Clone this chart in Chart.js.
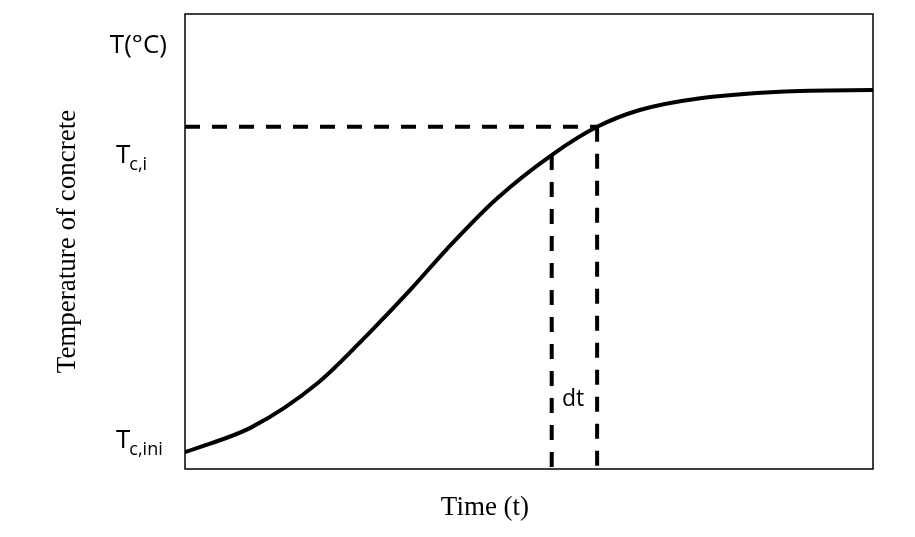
<!DOCTYPE html>
<html>
<head>
<meta charset="utf-8">
<script src="https://cdn.jsdelivr.net/npm/chart.js@4.4.0/dist/chart.umd.min.js"></script>
<style>
  html, body { margin: 0; padding: 0; background: #fff; }
  #wrap { width: 915px; height: 537px; }
</style>
</head>
<body>
<div id="wrap"><canvas id="myChart"></canvas></div>
<script>
// curve (time 0..100, temperature 0..100)
const timeVals = [0, 9.7, 19.3, 26.9, 32.7, 38.1, 45.3, 53.3, 59.9, 66.1, 74.9, 89.4, 100];
const tempVals = [3.7, 9.2, 18.9, 30.1, 39.3, 48.4, 59.4, 69.0, 75.2, 78.9, 81.5, 83.1, 83.3];

// guide lines
const tI = 59.9;       // time at Tc,i
const tPrev = 53.3;    // start of dt
const tempI = 75.2;    // Tc,i
const tempPrev = 69.0;

// y axis labels: [text, subscript, value at baseline]
const yLabels = [
  ["T(°C)", "", 91.4],
  ["T", "c,i", 67.3],
  ["T", "c,ini", 4.6],
];
const dtLabel = ["dt", 56.4, 15.2];
const xTitle = "Time (t)";
const yTitle = "Temperature of concrete";

const curve = timeVals.map((t, i) => ({ x: t, y: tempVals[i] }));

const dashed = {
  borderColor: "#000",
  borderWidth: 4,
  borderDash: [15, 12],
  pointRadius: 0,
  fill: false,
  tension: 0,
};

const decorPlugin = {
  id: "decor",
  afterDraw(chart) {
    const ctx = chart.ctx;
    const a = chart.chartArea;
    const xs = chart.scales.x, ys = chart.scales.y;
    ctx.save();
    // frame
    ctx.strokeStyle = "#000";
    ctx.lineWidth = 1.5;
    ctx.strokeRect(a.left, a.top, a.right - a.left, a.bottom - a.top);

    // y labels
    ctx.fillStyle = "#000";
    ctx.textBaseline = "alphabetic";
    yLabels.forEach(([txt, sub, v]) => {
      const py = ys.getPixelForValue(v);
      ctx.font = "26px 'Open Sans'";
      if (!sub) {
        ctx.textAlign = "right";
        ctx.fillText(txt, a.left - 18, py);
      } else {
        ctx.textAlign = "left";
        const x0 = a.left - 69;
        ctx.fillText(txt, x0, py);
        const w = ctx.measureText(txt).width;
        ctx.font = "18px 'Open Sans'";
        ctx.fillText(sub, x0 + w - 1, py + 7);
      }
    });

    // dt
    ctx.textBaseline = "middle";
    ctx.font = "23px 'Open Sans'";
    ctx.textAlign = "center";
    ctx.fillText(dtLabel[0], xs.getPixelForValue(dtLabel[1]), ys.getPixelForValue(dtLabel[2]));

    // axis titles
    ctx.font = "27px 'Liberation Serif'";
    ctx.fillText(xTitle, a.left + (a.right - a.left) * 0.436, a.bottom + 39);
    ctx.translate(a.left - 117, (a.top + a.bottom) / 2);
    ctx.rotate(-Math.PI / 2);
    ctx.fillText(yTitle, 0, 0);
    ctx.restore();
  },
};

new Chart(document.getElementById("myChart").getContext("2d"), {
  type: "line",
  data: {
    datasets: [
      {
        data: curve,
        borderColor: "#000",
        borderWidth: 4,
        pointRadius: 0,
        fill: false,
        cubicInterpolationMode: "monotone",
      },
      { ...dashed, data: [{ x: 0, y: tempI }, { x: tI, y: tempI }] },
      { ...dashed, data: [{ x: tPrev, y: tempPrev }, { x: tPrev, y: 0 }] },
      { ...dashed, data: [{ x: tI, y: tempI }, { x: tI, y: 0 }] },
    ],
  },
  options: {
    responsive: true,
    maintainAspectRatio: false,
    animation: false,
    layout: { padding: { left: 185, top: 14, right: 42, bottom: 68 } },
    plugins: { legend: { display: false }, tooltip: { enabled: false } },
    scales: {
      x: { type: "linear", min: 0, max: 100, display: false },
      y: { type: "linear", min: 0, max: 100, display: false },
    },
  },
  plugins: [decorPlugin],
});
</script>
</body>
</html>
